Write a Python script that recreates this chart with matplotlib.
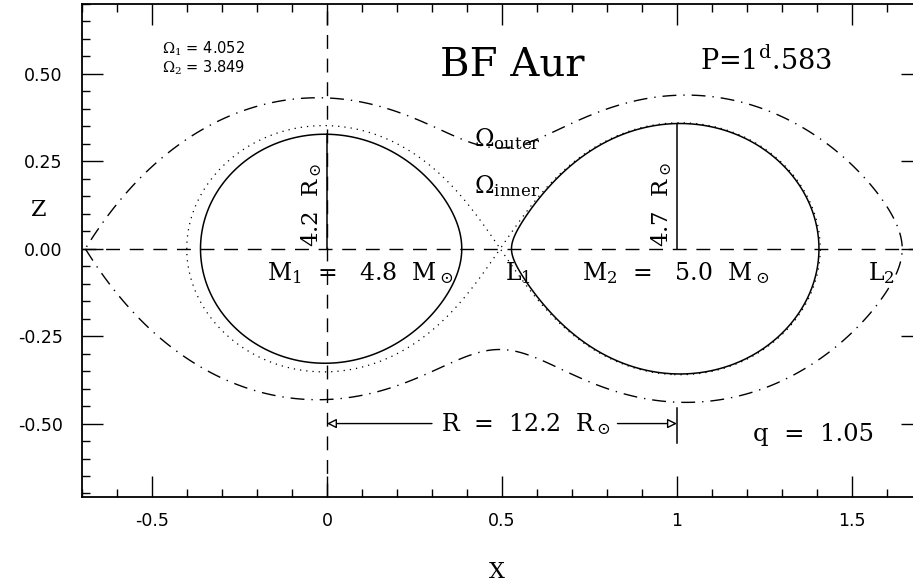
import numpy as np
import matplotlib.pyplot as plt
from matplotlib.ticker import MultipleLocator

plt.rcParams['mathtext.fontset'] = 'dejavuserif'
plt.rcParams['axes.unicode_minus'] = False

# system parameters (q = M2/M1, surface potentials)
q = 1.05
omega_1 = 4.052
omega_2 = 3.849

x_ticks = [-0.5, 0, 0.5, 1, 1.5]
x_tick_labels = ['-0.5', '0', '0.5', '1', '1.5']
z_ticks = [-0.5, -0.25, 0.0, 0.25, 0.5]
z_tick_labels = ['-0.50', '-0.25', '0.00', '0.25', '0.50']

label_m1 = r'M$_1$  =   4.8  M$_\odot$'
label_m2 = r'M$_2$  =   5.0  M$_\odot$'
label_r1 = r'4.2  R$_\odot$'
label_r2 = r'4.7  R$_\odot$'
label_sep = r'R  =  12.2  R$_\odot$'
label_q = 'q  =  1.05'
label_period = r'P=1$^{\rm d}$.583'
label_omegas = '$\\Omega_1$ = 4.052\n$\\Omega_2$ = 3.849'


def roche(x, z):
    # modified Roche potential in the x-z plane
    r1 = np.sqrt(x**2 + z**2)
    r2 = np.sqrt((x - 1)**2 + z**2)
    with np.errstate(divide='ignore'):
        return 1 / r1 + q * (1 / r2 - x) + 0.5 * (q + 1) * x**2


# critical potentials
xa = np.linspace(0.05, 0.95, 20001)
omega_in = roche(xa, 0.0).min()
xl = np.linspace(-1.0, -0.3, 20001)
pl = roche(xl, 0.0)
x_l3 = xl[pl.argmin()]
xr = np.linspace(1.3, 2.0, 20001)
omega_out = max(pl.min(), roche(xr, 0.0).min())

# polar radii of both stars
zz = np.linspace(0.2, 0.5, 30001)
pole_1 = zz[np.argmin(np.abs(roche(0.0, zz) - omega_1))]
pole_2 = zz[np.argmin(np.abs(roche(1.0, zz) - omega_2))]

xg = np.linspace(-0.7, 1.7, 1201) + 1e-4
zg = np.linspace(-0.71, 0.7, 706) + 1e-4
X, Z = np.meshgrid(xg, zg)
P = np.nan_to_num(roche(X, Z), posinf=1e3)

fig = plt.figure(figsize=(9.13, 5.86), dpi=100)
ax = fig.add_axes([0.0898, 0.1519, 0.92, 0.8413])

m1 = xg <= 0.5
m2 = xg >= 0.5
mo = xg >= x_l3
ax.contour(X[:, m1], Z[:, m1], P[:, m1], levels=[omega_1], colors='k', linewidths=1.1)
ax.contour(X[:, m2], Z[:, m2], P[:, m2], levels=[omega_2], colors='k', linewidths=1.1)
ax.contour(X, Z, P, levels=[omega_in], colors='k', linewidths=0.9,
           linestyles=[(0, (1, 4))])
ax.contour(X[:, mo], Z[:, mo], P[:, mo], levels=[omega_out], colors='k', linewidths=1.0,
           linestyles=[(0, (10, 5, 1, 5))])

# axes through the primary
ax.axhline(0, color='k', lw=1.0, dashes=(10, 7))
ax.axvline(0, color='k', lw=1.0, dashes=(10, 7))
ax.plot([0, 0], [0, pole_1], 'k-', lw=1.1)
ax.plot([1, 1], [0, pole_2], 'k-', lw=1.1)

serif = 'DejaVu Serif'
ax.text(-0.008, 0.005, label_r1, rotation=90, ha='right', va='bottom', fontsize=16.5, family=serif)
ax.text(0.992, 0.005, label_r2, rotation=90, ha='right', va='bottom', fontsize=16.5, family=serif)
ax.text(0.53, 0.525, 'BF Aur', ha='center', va='center', fontsize=29, family=serif)
ax.text(1.065, 0.537, label_period, va='center', fontsize=19.5, family=serif)
ax.text(-0.47, 0.545, label_omegas, va='center', fontsize=10.5, family='DejaVu Sans',
        linespacing=1.0)
ax.text(0.42, 0.315, r'$\Omega_{\rm outer}$', va='center', fontsize=17)
ax.text(0.42, 0.18, r'$\Omega_{\rm inner}$', va='center', fontsize=17)
ax.text(-0.17, -0.07, label_m1, va='center', fontsize=17, family=serif)
ax.text(0.51, -0.07, r'L$_1$', va='center', fontsize=17, family=serif)
ax.text(0.73, -0.07, label_m2, va='center', fontsize=17, family=serif)
ax.text(1.545, -0.07, r'L$_2$', va='center', fontsize=17, family=serif)
ax.text(0.569, -0.5, label_sep, ha='center', va='center', fontsize=17, family=serif)
ax.text(1.217, -0.53, label_q, va='center', fontsize=17.5, family=serif)

arrow = dict(arrowstyle='-|>', fc='white', ec='black', lw=1.0, shrinkA=0, shrinkB=0,
             mutation_scale=14)
ax.annotate('', xy=(0, -0.5), xytext=(0.3, -0.5), arrowprops=arrow)
ax.annotate('', xy=(1, -0.5), xytext=(0.83, -0.5), arrowprops=arrow)
ax.plot([1, 1], [-0.455, -0.555], 'k-', lw=1.1)

ax.set_xlim(-0.7, 1.7)
ax.set_ylim(-0.71, 0.7)
ax.set_xticks(x_ticks)
ax.set_xticklabels(x_tick_labels)
ax.set_yticks(z_ticks)
ax.set_yticklabels(z_tick_labels)
ax.xaxis.set_minor_locator(MultipleLocator(0.1))
ax.yaxis.set_minor_locator(MultipleLocator(0.05))
ax.tick_params(which='both', direction='in', top=True, right=True, width=1.0)
ax.tick_params(which='major', length=15, labelsize=12.5)
ax.tick_params(axis='y', which='major', pad=14)
ax.tick_params(axis='x', which='major', pad=11)
ax.tick_params(which='minor', length=6)
for s in ax.spines.values():
    s.set_linewidth(1.3)

ax.set_xlabel('X', fontsize=16, family=serif, va='center')
ax.set_ylabel('Z', fontsize=16, family=serif, rotation=0, va='center', ha='center')
ax.xaxis.set_label_coords(0.494, -0.152)
ax.yaxis.set_label_coords(-0.052, 0.582)

fig.savefig('out.png', dpi=100)
